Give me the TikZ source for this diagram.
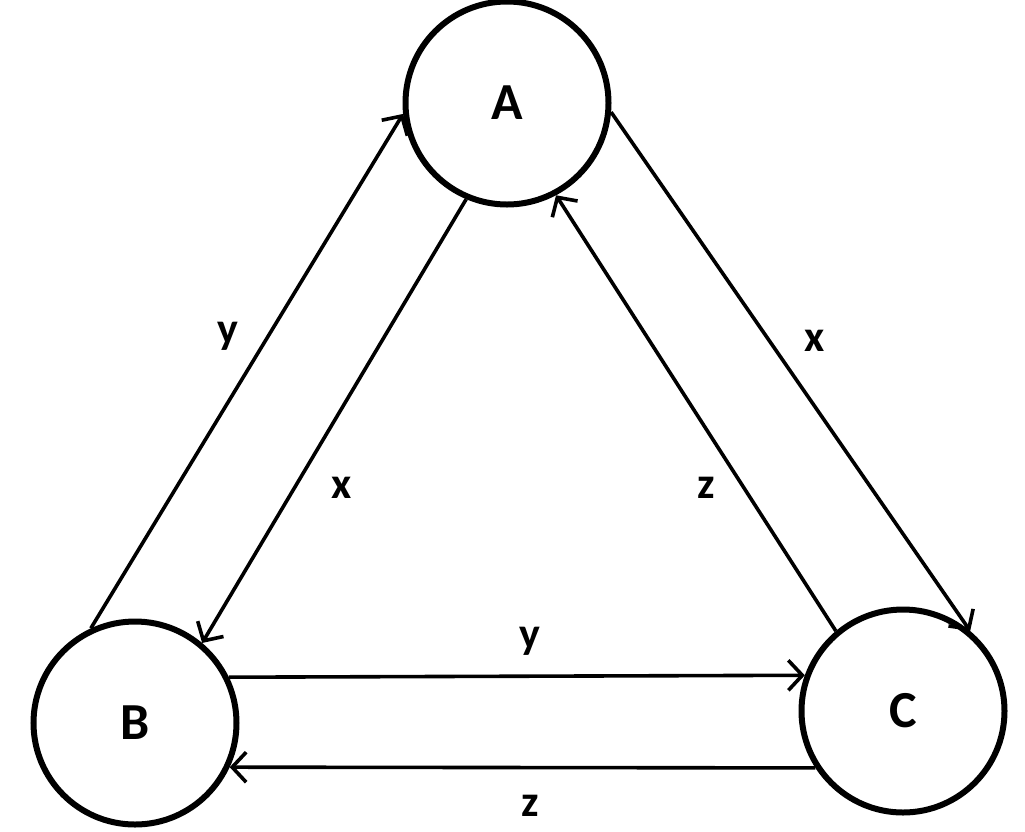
\documentclass[tikz,border=0pt]{standalone}
\usepackage{fontspec}
\setmainfont{Carlito}
\usetikzlibrary{arrows.meta}
\begin{document}
\begin{tikzpicture}[x=1pt,y=-1pt,
  st/.style={circle,draw,line width=6pt,minimum size=203pt,inner sep=0pt,font=\fontsize{52}{60}\selectfont\bfseries},
  ed/.style={line width=3.6pt,-{Straight Barb[length=14pt,width=30pt,line width=3.6pt]}},
  lb/.style={font=\fontsize{44}{50}\selectfont\bfseries}]
\useasboundingbox (0,0) rectangle (1025,831);
\node[st] (A) at (507,103) {A};
\node[st] (B) at (135,723) {B};
\node[st] (C) at (903,711) {C};
\draw[ed] (B.115) -- (A.186);
\draw[ed] (A.247) -- (B.50);
\draw[ed] (A.355) -- (C.50);
\draw[ed] (C.130) -- (A.298);
\draw[ed] (B.26) -- (C.160);
\draw[ed] (C.213) -- (B.335);
\node[lb] (l1) at (228,336) {y};
\node[lb] (l2) at (342,488) {x};
\node[lb] (l3) at (815,341) {x};
\node[lb] (l4) at (706,488) {z};
\node[lb] (l5) at (530,641) {y};
\node[lb] (l6) at (530,806) {z};
\end{tikzpicture}
\end{document}
